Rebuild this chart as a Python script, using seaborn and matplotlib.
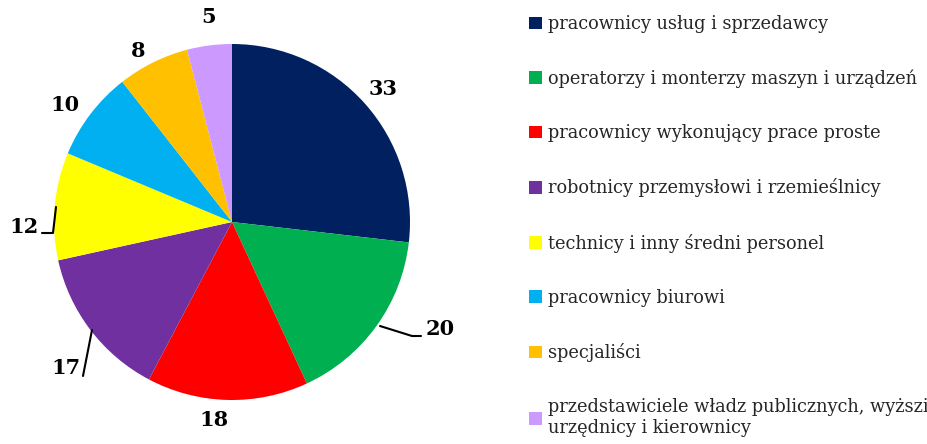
import matplotlib
matplotlib.use("Agg")
import matplotlib.pyplot as plt
import seaborn as sns

categories = [
    "pracownicy usług i sprzedawcy",
    "operatorzy i monterzy maszyn i urządzeń",
    "pracownicy wykonujący prace proste",
    "robotnicy przemysłowi i rzemieślnicy",
    "technicy i inny średni personel",
    "pracownicy biurowi",
    "specjaliści",
    "przedstawiciele władz publicznych, wyższi\nurzędnicy i kierownicy",
]
values = [33, 20, 18, 17, 12, 10, 8, 5]
colors = ["#002060", "#00B050", "#FF0000", "#7030A0", "#FFFF00", "#00B0F0", "#FFC000", "#CC99FF"]

sns.set_theme(style="white")
plt.rcParams["font.family"] = ["DejaVu Serif"]

W, H = 928, 444
fig = plt.figure(figsize=(W / 100, H / 100), dpi=100)
cx, cy, r = 232, 222, 178
ax = fig.add_axes([(cx - r) / W, (H - cy - r) / H, 2 * r / W, 2 * r / H])
wedges, _ = ax.pie(values, colors=colors, startangle=90, counterclock=False,
                   wedgeprops=dict(linewidth=0))
ax.set_xlim(-1, 1)
ax.set_ylim(-1, 1)
ax.set_aspect("equal")
ax.axis("off")

# label positions (data units, radius = 1)
lab_pos = [(0.85, 0.75), (1.17, -0.60), (-0.10, -1.11), (-0.93, -0.82),
           (-1.17, -0.03), (-0.94, 0.66), (-0.53, 0.96), (-0.13, 1.15)]
for v, (x, y) in zip(values, lab_pos):
    ax.text(x, y, str(v), ha="center", va="center", fontsize=15,
            fontweight="bold", color="black", clip_on=False)

def px(x, y):
    return ((x - cx) / r, (cy - y) / r)

leaders = [
    [(380, 326), (412, 336), (421, 336)],
    [(92, 330), (83, 376)],
    [(56, 207), (53, 233), (42, 233)],
]
for pts in leaders:
    xs, ys = zip(*[px(*p) for p in pts])
    ax.plot(xs, ys, color="black", lw=1.5, clip_on=False)

leg = fig.legend(wedges, categories, loc="upper left",
                 bbox_to_anchor=(522 / W, 1 - 8 / H), frameon=False,
                 fontsize=12.8, handlelength=0.72, handleheight=0.72,
                 handletextpad=0.35, labelspacing=2.04, borderaxespad=0)

fig.savefig("out.png", dpi=100)
